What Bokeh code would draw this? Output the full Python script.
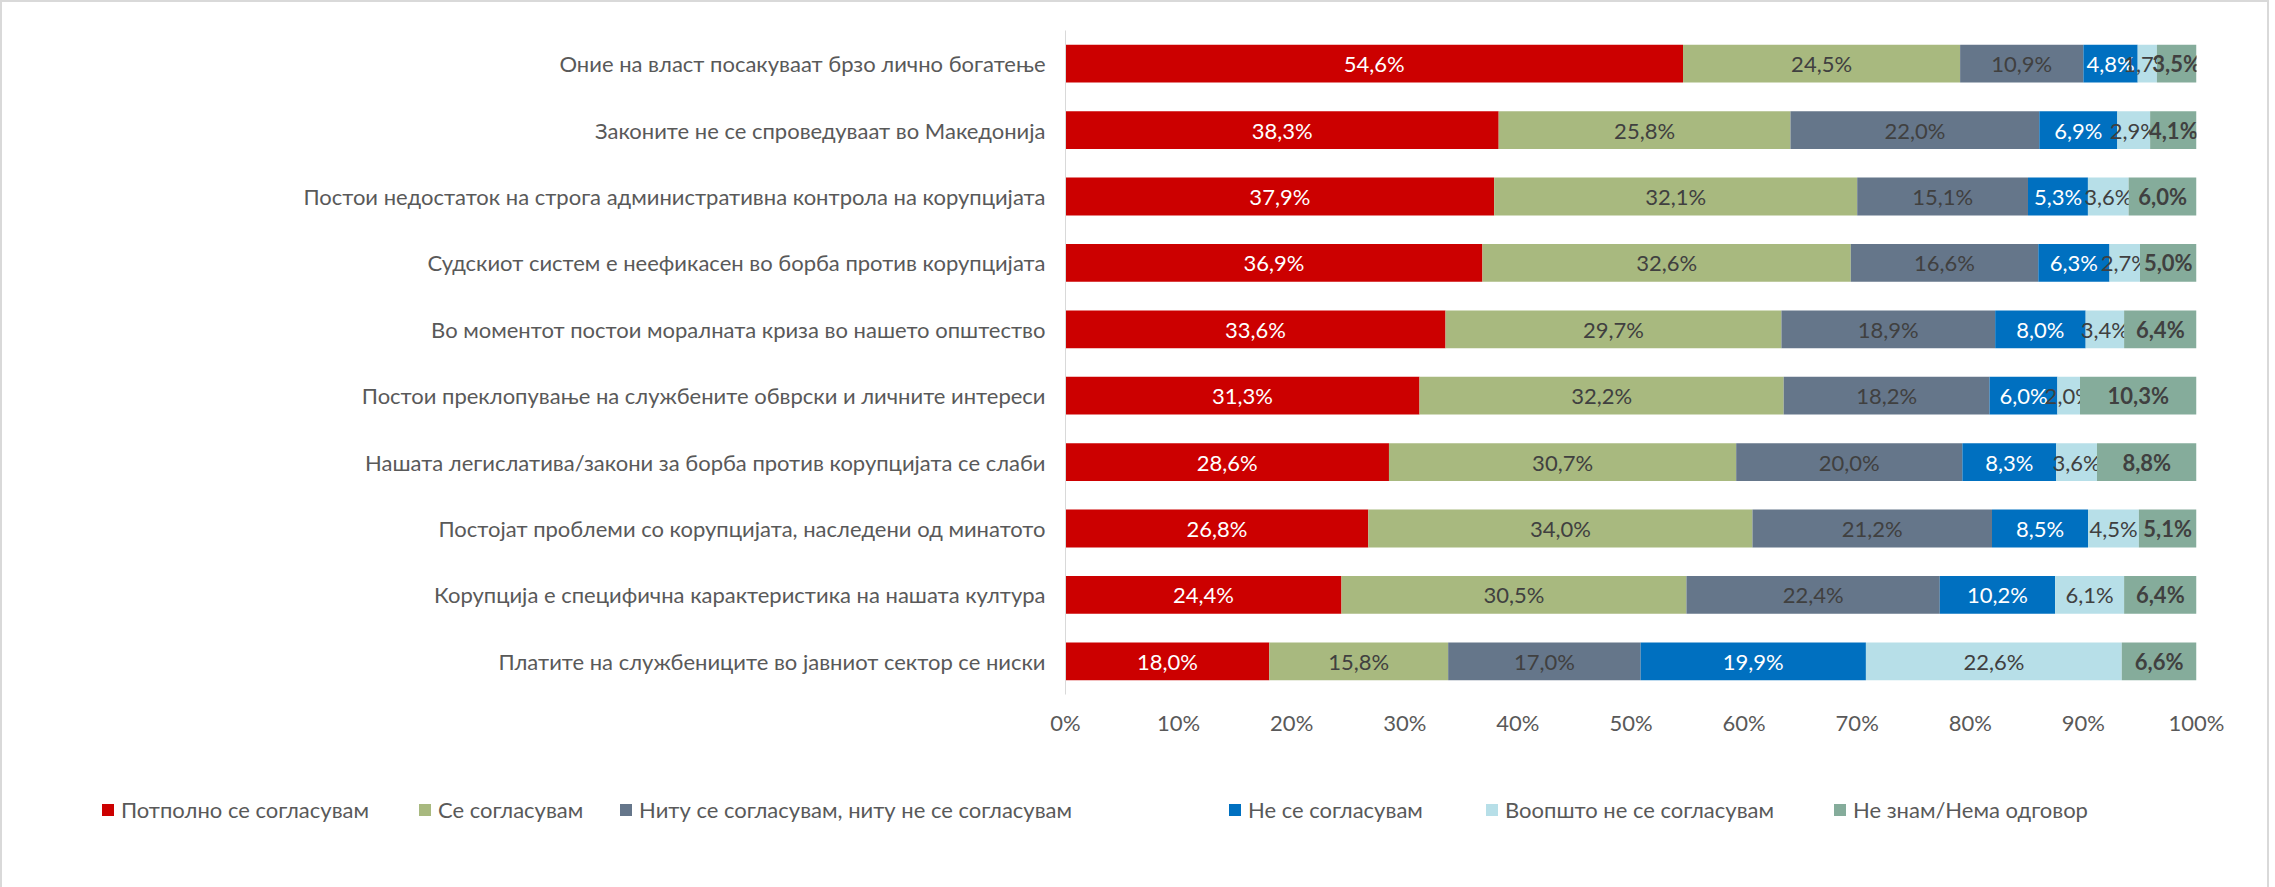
from bokeh.plotting import figure
from bokeh.layouts import column
from bokeh.models import ColumnDataSource, FactorRange, Range1d, FixedTicker, Div
from bokeh.core.properties import value
from bokeh.embed import file_html
from bokeh.resources import INLINE

FONT = "Lato"
FS = "22px"

categories = [
    "Оние на власт посакуваат брзо лично богатење",
    "Законите не се спроведуваат во Македонија",
    "Постои недостаток на строга административна контрола на корупцијата",
    "Судскиот систем е неефикасен во борба против корупцијата",
    "Во моментот постои моралната криза во нашето општество",
    "Постои преклопување на службените обврски и личните интереси",
    "Нашата легислатива/закони за борба против корупцијата се слаби",
    "Постојат проблеми со корупцијата, наследени од минатото",
    "Корупција е специфична карактеристика на нашата култура",
    "Платите на службениците во јавниот сектор се ниски",
]

series_names = [
    "Потполно се согласувам",
    "Се согласувам",
    "Ниту се согласувам, ниту не се согласувам",
    "Не се согласувам",
    "Воопшто не се согласувам",
    "Не знам/Нема одговор",
]

fully_agree = [54.6, 38.3, 37.9, 36.9, 33.6, 31.3, 28.6, 26.8, 24.4, 18.0]
agree = [24.5, 25.8, 32.1, 32.6, 29.7, 32.2, 30.7, 34.0, 30.5, 15.8]
neutral = [10.9, 22.0, 15.1, 16.6, 18.9, 18.2, 20.0, 21.2, 22.4, 17.0]
disagree = [4.8, 6.9, 5.3, 6.3, 8.0, 6.0, 8.3, 8.5, 10.2, 19.9]
fully_disagree = [1.7, 2.9, 3.6, 2.7, 3.4, 2.0, 3.6, 4.5, 6.1, 22.6]
dont_know = [3.5, 4.1, 6.0, 5.0, 6.4, 10.3, 8.8, 5.1, 6.4, 6.6]

series_values = [fully_agree, agree, neutral, disagree, fully_disagree, dont_know]

colors = ["#CC0000", "#A8B97F", "#65768A", "#0070C0", "#B7DFE8", "#85AC9B"]
label_colors = ["#FFFFFF", "#404040", "#404040", "#FFFFFF", "#404040", "#404040"]
label_styles = ["normal", "normal", "normal", "normal", "normal", "bold"]

tick_values = [0, 10, 20, 30, 40, 50, 60, 70, 80, 90, 100]
tick_labels = ["0%", "10%", "20%", "30%", "40%", "50%", "60%", "70%", "80%", "90%", "100%"]

# legend item left positions (px inside the legend strip)
legend_x = [95, 412, 613, 1222, 1479, 1827]
legend_top = 39

W = 2255
TOP_H = 750
LEG_H = 125

p = figure(
    width=W, height=TOP_H,
    y_range=FactorRange(factors=list(reversed(categories)), range_padding=0),
    x_range=Range1d(0, 100),
    output_backend="svg", toolbar_location=None,
    min_border_left=1063, min_border_right=61,
    min_border_top=28, min_border_bottom=58,
)
p.outline_line_color = None
p.xgrid.grid_line_color = None
p.ygrid.grid_line_color = None

totals = [sum(vals) for vals in zip(*series_values)]
left = [0.0] * len(categories)
for i, vals in enumerate(series_values):
    widths = [v / t * 100 for v, t in zip(vals, totals)]
    right = [l + w for l, w in zip(left, widths)]
    src = ColumnDataSource(dict(
        cat=categories,
        left=left,
        right=right,
        mid=[(l + r) / 2 for l, r in zip(left, right)],
        lbl=[f"{v:.1f}%".replace(".", ",") for v in vals],
    ))
    p.hbar(y="cat", left="left", right="right", height=0.57, source=src,
           fill_color=colors[i], line_color=None)
    p.text(x="mid", y="cat", text="lbl", source=src, text_align="center",
           text_baseline="middle", text_font=value(FONT), text_font_size=FS,
           text_color=label_colors[i], text_font_style=label_styles[i])
    left = right

# axes
p.yaxis.axis_line_color = "#D9D9D9"
p.yaxis.axis_line_width = 1
p.yaxis.major_tick_line_color = None
p.yaxis.minor_tick_line_color = None
p.yaxis.major_label_standoff = 14
p.yaxis.major_label_text_font = FONT
p.yaxis.major_label_text_font_size = FS
p.yaxis.major_label_text_color = "#595959"

p.xaxis.axis_line_color = None
p.xaxis.major_tick_line_color = None
p.xaxis.minor_tick_line_color = None
p.xaxis.ticker = FixedTicker(ticks=tick_values)
p.xaxis.major_label_overrides = {t: l for t, l in zip(tick_values, tick_labels)}
p.xaxis.major_label_standoff = 8
p.xaxis.major_label_text_font = FONT
p.xaxis.major_label_text_font_size = FS
p.xaxis.major_label_text_color = "#595959"

# legend strip
items = []
for name, c, x in zip(series_names, colors, legend_x):
    items.append(
        f'<div style="position:absolute;left:{x}px;top:{legend_top}px;height:24px;'
        f'line-height:24px;white-space:nowrap;">'
        f'<span style="display:inline-block;width:12px;height:12px;background:{c};'
        f'margin-right:7px;vertical-align:middle;"></span>'
        f'<span style="vertical-align:middle;">{name}</span></div>'
    )
legend_html = (
    f'<div style="position:relative;width:{W}px;height:{LEG_H}px;font-family:{FONT};'
    f'font-size:{FS};color:#595959;">' + "".join(items) + "</div>"
)
legend_div = Div(text=legend_html, width=W, height=LEG_H)

layout = column(
    p, legend_div, spacing=0,
    styles={
        "border-top": "2px solid #D9D9D9",
        "border-left": "2px solid #D9D9D9",
        "border-right": "2px solid #D9D9D9",
        "border-bottom": "2px solid #FFFFFF",
    },
)

open("out.html", "w").write(file_html(layout, INLINE))
